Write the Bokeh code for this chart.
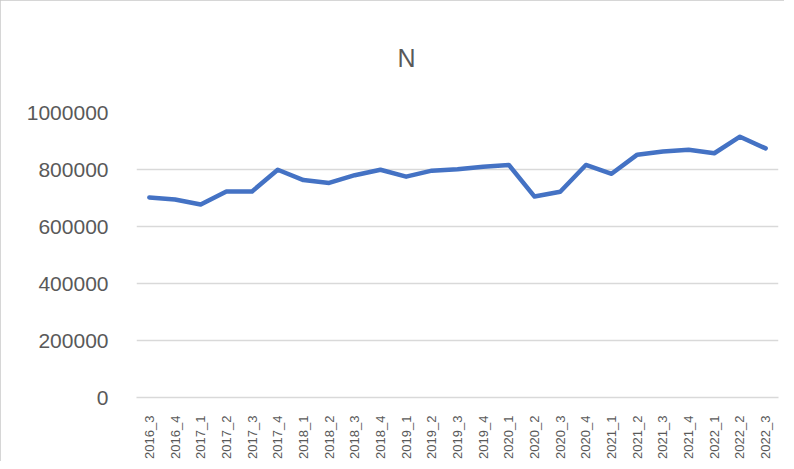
from bokeh.plotting import figure
from bokeh.models import Range1d, FactorRange, FixedTicker, BasicTickFormatter
from bokeh.embed import file_html
from bokeh.resources import INLINE

periods = ["2016_3", "2016_4", "2017_1", "2017_2", "2017_3", "2017_4",
           "2018_1", "2018_2", "2018_3", "2018_4", "2019_1", "2019_2",
           "2019_3", "2019_4", "2020_1", "2020_2", "2020_3", "2020_4",
           "2021_1", "2021_2", "2021_3", "2021_4", "2022_1", "2022_2", "2022_3"]
n_values = [702000, 695000, 677000, 723000, 723000, 799000,
            763000, 753000, 780000, 799000, 775000, 796000,
            801000, 810000, 816000, 705000, 722000, 816000,
            785000, 852000, 863000, 869000, 857000, 915000, 874000]
y_ticks = [0, 200000, 400000, 600000, 800000, 1000000]

text_color = "#595959"
grid_color = "#d9d9d9"

p = figure(width=784, height=461, output_backend="svg", toolbar_location=None,
           x_range=FactorRange(*periods), y_range=Range1d(0, 1000000),
           min_border_left=136, min_border_right=6, min_border_top=111,
           min_border_bottom=62)
p.title.text = "N"
p.title.text_font = "Liberation Sans"
p.title.text_font_size = "25px"
p.title.text_font_style = "normal"
p.title.text_color = text_color
p.title.align = "left"
p.title.offset = 261
p.title.standoff = 82

p.line(x=periods, y=n_values, line_color="#4472C4", line_width=4.5,
       line_join="round", line_cap="round")

p.outline_line_color = None
p.background_fill_color = "white"
p.border_fill_color = "white"
p.styles = {"outline": "1px solid #c8c8c8", "outline-offset": "-1px"}

p.yaxis.ticker = FixedTicker(ticks=y_ticks)
p.yaxis.formatter = BasicTickFormatter(use_scientific=False)
p.yaxis.axis_line_color = None
p.yaxis.major_tick_line_color = None
p.yaxis.minor_tick_line_color = None
p.yaxis.major_label_text_font = "Liberation Sans"
p.yaxis.major_label_text_font_size = "21px"
p.yaxis.major_label_text_color = text_color
p.yaxis.major_label_standoff = 22

p.xaxis.axis_line_color = grid_color
p.xaxis.axis_line_width = 1.5
p.xaxis.major_tick_line_color = None
p.xaxis.minor_tick_line_color = None
p.xaxis.major_label_orientation = 1.5708
p.xaxis.major_label_text_font = "Liberation Sans"
p.xaxis.major_label_text_font_size = "13px"
p.xaxis.major_label_text_color = text_color
p.xaxis.major_label_standoff = 12

p.xgrid.grid_line_color = None
p.ygrid.grid_line_color = grid_color
p.ygrid.grid_line_width = 1.5

open("out.html", "w").write(file_html(p, INLINE))
